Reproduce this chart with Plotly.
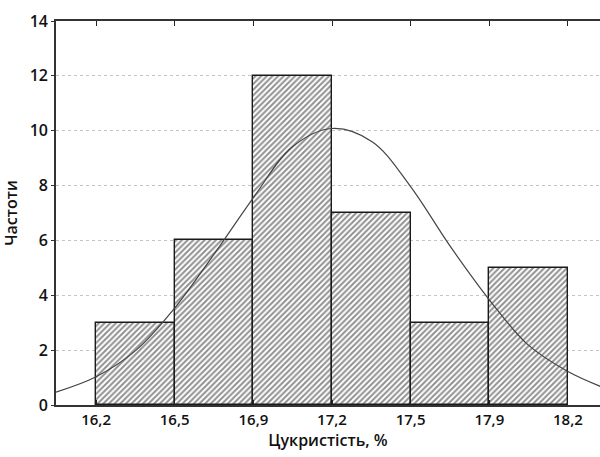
import plotly.graph_objects as go

# Data
bin_edges = [16.2, 16.533, 16.867, 17.2, 17.533, 17.867, 18.2]
tick_labels = ["16,2", "16,5", "16,9", "17,2", "17,5", "17,9", "18,2"]
frequencies = [3, 6, 12, 7, 3, 5]

curve_x = [16.03, 16.2, 16.37, 16.53, 16.7, 16.87, 17.03, 17.2, 17.37, 17.53, 17.7, 17.87, 18.03, 18.2, 18.34]
curve_y = [0.47, 1.03, 2.0, 3.5, 5.5, 7.6, 9.4, 10.08, 9.6, 8.0, 5.8, 3.8, 2.2, 1.22, 0.67]

centers = [(a + b) / 2 for a, b in zip(bin_edges[:-1], bin_edges[1:])]
widths = [b - a for a, b in zip(bin_edges[:-1], bin_edges[1:])]

FONT = "Open Sans"
TXT = "#111111"
fig = go.Figure()
fig.add_trace(go.Bar(
    x=centers, y=frequencies, width=widths,
    marker=dict(color="white",
                line=dict(color="#1a1a1a", width=1.4),
                pattern=dict(shape="/", size=4, solidity=0.5, fgcolor="#222222", bgcolor="white")),
    showlegend=False, hoverinfo="skip",
))
fig.add_trace(go.Scatter(
    x=curve_x, y=curve_y, mode="lines", line=dict(color="#444444", width=1.2, shape="spline"),
    showlegend=False, hoverinfo="skip",
))

xr = [16.03, 18.336]
fig.update_layout(
    width=600, height=457,
    margin=dict(l=56, r=0, t=21, b=52),
    paper_bgcolor="white", plot_bgcolor="white",
    font=dict(family=FONT, size=14, color=TXT),
    bargap=0,
    xaxis=dict(range=xr, tickvals=bin_edges, ticktext=tick_labels,
               showline=True, linecolor="#333333", linewidth=1.6, mirror="ticks",
               ticks="inside", ticklen=5, tickwidth=1.4, tickcolor="#222222",
               showgrid=False, zeroline=False,
               tickfont=dict(family=FONT, size=15, color=TXT, weight=600),
               title=dict(text="Цукристість, %", font=dict(family=FONT, size=16, color=TXT, weight=600), standoff=6)),
    yaxis=dict(range=[0, 14], dtick=2, tick0=0,
               showline=True, linecolor="#333333", linewidth=1.6,
               ticks="outside", ticklen=3, tickcolor="#333333",
               showgrid=True, gridcolor="#c4c4c4", griddash="dot", gridwidth=1,
               zeroline=False,
               tickfont=dict(family=FONT, size=16, color=TXT, weight=600),
               title=dict(text="Частоти", font=dict(family=FONT, size=16, color=TXT, weight=600), standoff=8)),
)
fig.write_html("out.html")
